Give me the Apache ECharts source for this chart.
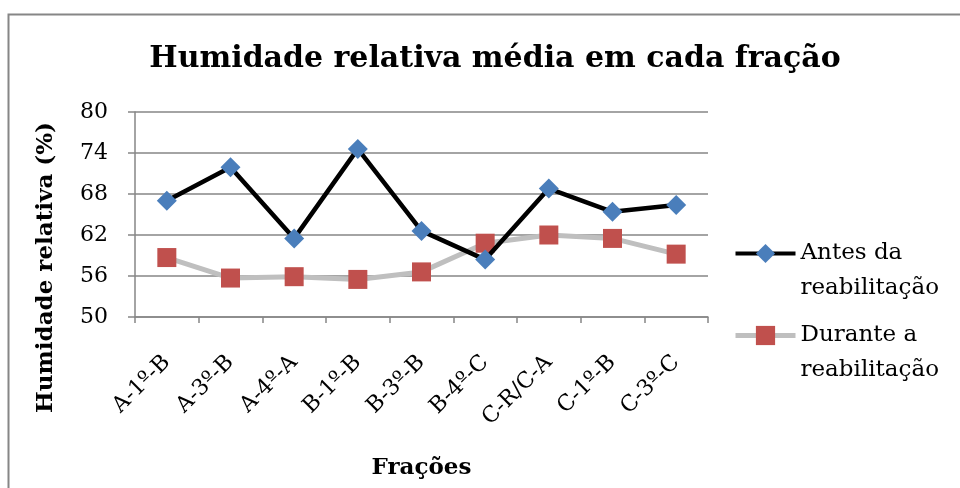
<!DOCTYPE html>
<html>
<head>
<meta charset="utf-8">
<script src="https://cdn.jsdelivr.net/npm/echarts@6/dist/echarts.min.js"></script>
<style>
  html, body { margin: 0; padding: 0; background: #fff; }
  #chart { width: 960px; height: 488px; }
</style>
</head>
<body>
<div id="chart"></div>
<script>
var categories = ['A-1º-B', 'A-3º-B', 'A-4º-A', 'B-1º-B', 'B-3º-B', 'B-4º-C', 'C-R/C-A', 'C-1º-B', 'C-3º-C'];
var antes = [67.0, 71.9, 61.5, 74.6, 62.6, 58.4, 68.8, 65.4, 66.4];
var durante = [58.7, 55.7, 55.9, 55.5, 56.6, 60.8, 62.0, 61.5, 59.2];
var yTicks = { min: 50, max: 80, interval: 6 };

var serif = '"DejaVu Serif", "Liberation Serif", serif';
var chart = echarts.init(document.getElementById('chart'), null, { renderer: 'canvas' });
chart.setOption({
  animation: false,
  backgroundColor: '#fff',
  textStyle: { fontFamily: serif },
  title: {
    text: 'Humidade relativa média em cada fração',
    left: 490, top: 39, textAlign: 'center',
    textStyle: { fontFamily: serif, fontSize: 30, fontWeight: 'bold', color: '#000' }
  },
  graphic: [{
    type: 'rect',
    shape: { x: 8.5, y: 14.5, width: 1000, height: 600 },
    style: { fill: 'none', stroke: '#868686', lineWidth: 2 },
    silent: true
  }],
  grid: { left: 135, right: 252, top: 112, bottom: 171 },
  legend: {
    orient: 'vertical',
    left: 728, top: 196,
    itemWidth: 60, itemHeight: 24,
    itemGap: -23,
    data: [
      { name: 'Antes da reabilitação', lineStyle: { width: 4 } },
      { name: 'Durante a reabilitação', lineStyle: { width: 5 } }
    ],
    // blank first line keeps the icon level with the first text line
    formatter: function (n) { return ' \n' + n.replace(' reabilitação', '\nreabilitação'); },
    textStyle: { fontFamily: serif, fontSize: 23, color: '#000', lineHeight: 35 }
  },
  xAxis: {
    type: 'category',
    data: categories,
    boundaryGap: true,
    name: 'Frações',
    nameLocation: 'middle',
    nameGap: 140,
    nameTextStyle: { fontFamily: serif, fontSize: 23, fontWeight: 'bold', color: '#000' },
    axisLine: { lineStyle: { color: '#868686', width: 1.5 } },
    axisTick: { show: true, alignWithLabel: false, length: 6, lineStyle: { color: '#868686', width: 1.5 } },
    axisLabel: { rotate: 45, fontFamily: serif, fontSize: 22, color: '#000', margin: 42, interval: 0 },
    splitLine: { show: false }
  },
  yAxis: {
    type: 'value',
    min: yTicks.min, max: yTicks.max, interval: yTicks.interval,
    name: 'Humidade relativa (%)',
    nameLocation: 'middle',
    nameGap: 77,
    nameTextStyle: { fontFamily: serif, fontSize: 23, fontWeight: 'bold', color: '#000', padding: [0, 106, 0, 0] },
    axisLine: { show: true, lineStyle: { color: '#868686', width: 1.5 } },
    axisTick: { show: true, length: 7, lineStyle: { color: '#868686', width: 1.5 } },
    axisLabel: { fontFamily: serif, fontSize: 22, color: '#000', margin: 27 },
    splitLine: { lineStyle: { color: '#868686', width: 1.5 } }
  },
  series: [
    {
      name: 'Antes da reabilitação',
      type: 'line',
      data: antes,
      z: 3,
      symbol: 'diamond',
      symbolSize: 20,
      itemStyle: { color: '#4a7ebb' },
      lineStyle: { color: '#000', width: 4.5 }
    },
    {
      name: 'Durante a reabilitação',
      type: 'line',
      data: durante,
      z: 2,
      symbol: 'rect',
      symbolSize: 19,
      itemStyle: { color: '#c0504d' },
      lineStyle: { color: '#bfbfbf', width: 5 }
    }
  ]
});
</script>
</body>
</html>
